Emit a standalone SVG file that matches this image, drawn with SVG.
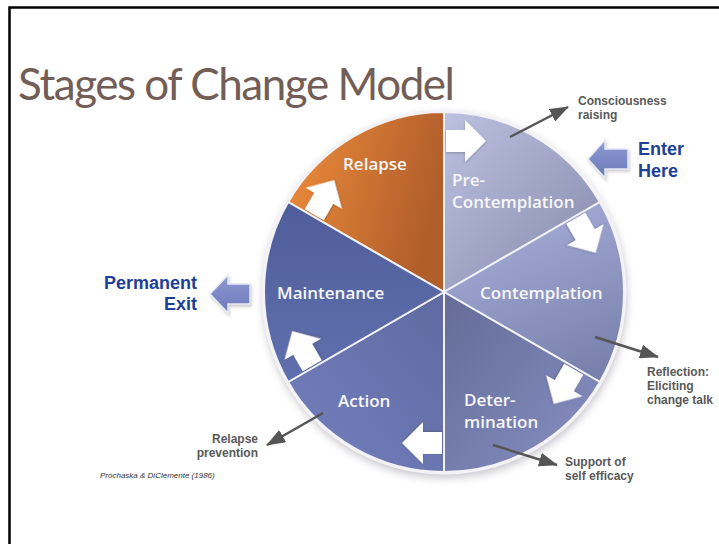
<svg xmlns="http://www.w3.org/2000/svg" xmlns:xlink="http://www.w3.org/1999/xlink" width="719" height="544" viewBox="0 0 719 544">
<style>
.seg{stroke:#F3F3F7;stroke-width:2;stroke-linejoin:round}
.lbl{font-family:"Open Sans","Noto Sans",sans-serif;font-weight:600;font-size:17px;fill:#F7F7FA}
.call{font-family:"Liberation Sans",Arial,sans-serif;font-weight:bold;font-size:12px;fill:#595959}
.blue{font-family:"Liberation Sans",Arial,sans-serif;font-weight:bold;font-size:18px;fill:#1D3F98}
.cl{stroke:#555;stroke-width:2.5;fill:none;marker-end:url(#ah)}
.big{fill:url(#gBlue);stroke:#E6E8F4;stroke-width:1.5;filter:url(#soft)}
.wa{fill:#FFFFFF;filter:url(#ws)}
</style>
<defs>
<linearGradient id="gRel" x1="0" y1="0" x2="1" y2="0.3"><stop offset="0" stop-color="#EF8D3B"/><stop offset="1" stop-color="#B15E2B"/></linearGradient>
<linearGradient id="gPre" x1="0" y1="0" x2="1" y2="1"><stop offset="0" stop-color="#BCC1E1"/><stop offset="1" stop-color="#858AAA"/></linearGradient>
<linearGradient id="gCon" x1="0.3" y1="0" x2="0.7" y2="1"><stop offset="0" stop-color="#A7AFD9"/><stop offset="1" stop-color="#7880AC"/></linearGradient>
<linearGradient id="gDet" x1="0" y1="0" x2="1" y2="1"><stop offset="0" stop-color="#636B96"/><stop offset="1" stop-color="#8890C4"/></linearGradient>
<linearGradient id="gAct" x1="1" y1="0" x2="0" y2="1"><stop offset="0" stop-color="#5F6AA2"/><stop offset="1" stop-color="#7480BE"/></linearGradient>
<linearGradient id="gMai" x1="0" y1="0" x2="0" y2="1"><stop offset="0" stop-color="#4F5E9A"/><stop offset="1" stop-color="#6070AE"/></linearGradient>
<linearGradient id="gBlue" x1="0" y1="0" x2="0" y2="1"><stop offset="0" stop-color="#8F9AD3"/><stop offset="1" stop-color="#6C79BA"/></linearGradient>
<filter id="shadow" x="-20%" y="-20%" width="140%" height="140%"><feGaussianBlur stdDeviation="4"/></filter>
<filter id="soft" x="-30%" y="-30%" width="160%" height="160%"><feDropShadow dx="1" dy="2" stdDeviation="1.5" flood-color="#999" flood-opacity="0.5"/></filter>
<filter id="ws" x="-30%" y="-30%" width="160%" height="160%"><feDropShadow dx="0" dy="1" stdDeviation="1" flood-color="#334" flood-opacity="0.35"/></filter>
<marker id="ah" markerUnits="userSpaceOnUse" markerWidth="20" markerHeight="14" refX="18" refY="7" orient="auto"><path d="M0,0 L19,7 L0,14 Z" fill="#555"/></marker>
<path id="warrow" d="M2,-140 L21,-140 L21,-130 L42,-151 L21,-172 L21,-162 L2,-162 Z"/>
</defs>

<rect x="9.5" y="7.5" width="720" height="545" fill="#FFFFFF" stroke="#000" stroke-width="2.5"/>

<text x="18" y="100" font-family="Lato,'Open Sans',sans-serif" font-weight="400" font-size="44" fill="#735E57" textLength="437" lengthAdjust="spacing">Stages of Change Model</text>

<circle cx="445" cy="296" r="182" fill="#9A9AA6" opacity="0.55" filter="url(#shadow)"/>
<circle cx="444" cy="292" r="182.5" fill="#F3F3F7"/>

<g id="relapse">
<path class="seg" fill="url(#gRel)" d="M444,292 L288.12,202 A180,180 0 0 1 444,112 Z"/>
<text class="lbl" x="343" y="170">Relapse</text>
</g>
<g id="precontemplation">
<path class="seg" fill="url(#gPre)" d="M444,292 L444,112 A180,180 0 0 1 599.88,202 Z"/>
<text class="lbl" x="452" y="186">Pre-</text>
<text class="lbl" x="452" y="208">Contemplation</text>
</g>
<g id="contemplation">
<path class="seg" fill="url(#gCon)" d="M444,292 L599.88,202 A180,180 0 0 1 599.88,382 Z"/>
<text class="lbl" x="480" y="299">Contemplation</text>
</g>
<g id="determination">
<path class="seg" fill="url(#gDet)" d="M444,292 L599.88,382 A180,180 0 0 1 444,472 Z"/>
<text class="lbl" x="464" y="406">Deter-</text>
<text class="lbl" x="464" y="428">mination</text>
</g>
<g id="action">
<path class="seg" fill="url(#gAct)" d="M444,292 L444,472 A180,180 0 0 1 288.12,382 Z"/>
<text class="lbl" x="338" y="407">Action</text>
</g>
<g id="maintenance">
<path class="seg" fill="url(#gMai)" d="M444,292 L288.12,382 A180,180 0 0 1 288.12,202 Z"/>
<text class="lbl" x="277" y="299">Maintenance</text>
</g>

<g id="transitions" transform="translate(444,292)">
<use xlink:href="#warrow" class="wa"/>
<use xlink:href="#warrow" class="wa" transform="rotate(60)"/>
<use xlink:href="#warrow" class="wa" transform="rotate(120)"/>
<use xlink:href="#warrow" class="wa" transform="rotate(180)"/>
<use xlink:href="#warrow" class="wa" transform="rotate(240)"/>
<use xlink:href="#warrow" class="wa" transform="rotate(300)"/>
</g>

<g id="enter-here">
<path class="big" d="M588,159 L605,140 L605,149 L628,149 L628,169 L605,169 L605,178 Z"/>
<text class="blue" x="638" y="155">Enter</text>
<text class="blue" x="638" y="177">Here</text>
</g>
<g id="permanent-exit">
<path class="big" d="M210,294 L228,275 L228,284 L250,284 L250,304 L228,304 L228,313 Z"/>
<text class="blue" x="197" y="289" text-anchor="end">Permanent</text>
<text class="blue" x="197" y="310" text-anchor="end">Exit</text>
</g>

<g id="connectors">
<line class="cl" x1="510" y1="137" x2="568" y2="107"/>
<line class="cl" x1="595" y1="337" x2="658" y2="357"/>
<line class="cl" x1="493" y1="445" x2="557" y2="465"/>
<line class="cl" x1="323" y1="413" x2="267" y2="445"/>
</g>

<g id="callout-labels">
<text class="call" x="578" y="105">Consciousness</text>
<text class="call" x="578" y="119">raising</text>
<text class="call" x="647" y="376">Reflection:</text>
<text class="call" x="647" y="390">Eliciting</text>
<text class="call" x="647" y="404">change talk</text>
<text class="call" x="565" y="466">Support of</text>
<text class="call" x="565" y="480">self efficacy</text>
<text class="call" x="258" y="443" text-anchor="end">Relapse</text>
<text class="call" x="258" y="457" text-anchor="end">prevention</text>
</g>

<text x="100" y="478" font-family="'Liberation Sans',Arial,sans-serif" font-style="italic" font-size="8" fill="#333">Prochaska &amp; DiClemente (1986)</text>
</svg>
